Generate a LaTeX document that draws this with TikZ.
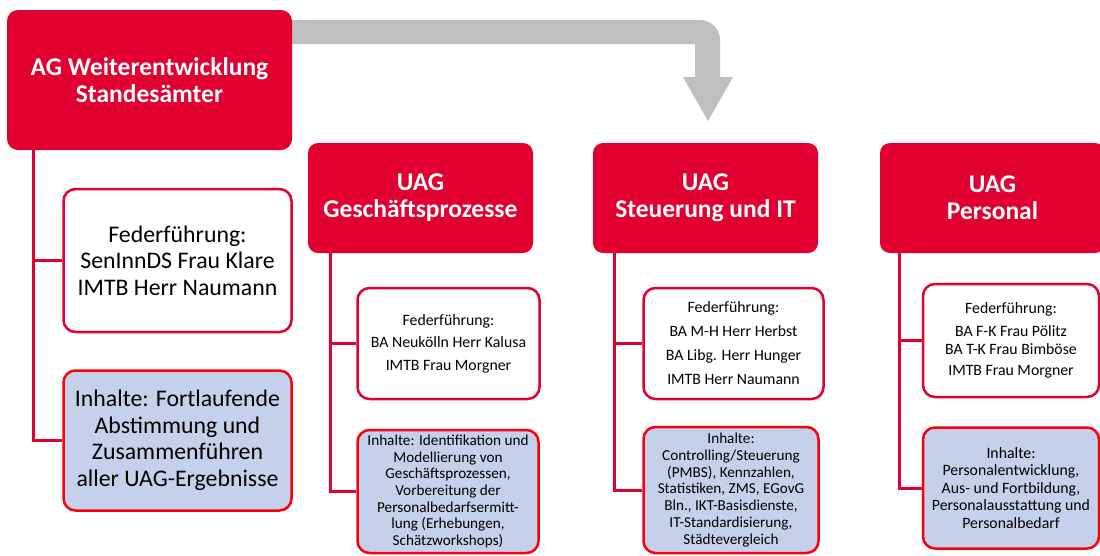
\documentclass[tikz,border=0pt]{standalone}
\usepackage{fontspec}
\setmainfont{Carlito}
\definecolor{agred}{RGB}{226,0,48}
\definecolor{brred}{RGB}{250,0,10}
\definecolor{lblue}{RGB}{197,208,235}
\definecolor{agray}{RGB}{191,191,191}
\tikzset{
  headbox/.style={fill=agred, draw=none, rounded corners=11pt, text=white,
    font=\fontsize{25.5}{27}\selectfont\bfseries, align=center, inner sep=0pt},
  fedbox/.style={draw=agred, fill=white, line width=2.5pt, rounded corners=12pt,
    align=center, inner sep=0pt},
  inhbox/.style={draw=brred, fill=lblue, line width=2.5pt, rounded corners=12pt,
    align=center, inner sep=0pt},
  bigtxt/.style={font=\fontsize{23.8}{26.5}\selectfont},
  midtxt/.style={font=\fontsize{15.8}{17.5}\selectfont},
  smalltxt/.style={font=\fontsize{15.2}{16.7}\selectfont},
  link/.style={draw=agred, line width=3pt},
  flow/.style={fill=agray, draw=none}
}
\begin{document}
\begin{tikzpicture}[x=1pt,y=-1pt]
\useasboundingbox (0,0) rectangle (1100,555);

% gray flow arrow
\fill[flow] (285,20) -- (700,20) .. controls (711,20) and (720,29) .. (720,40)
  -- (720,77) -- (733,77) -- (708,121) -- (683,77) -- (695,77) -- (695,44)
  -- (285,44) -- cycle;

% head boxes
\node[headbox, minimum width=285pt, minimum height=140pt] (ag) at (149.5,80)
  {AG Weiterentwicklung\\Standesämter};
\node[headbox, rounded corners=10pt, minimum width=225pt, minimum height=110pt] (uag1) at (420.5,198)
  {UAG\\Geschäftsprozesse};
\node[headbox, rounded corners=10pt, minimum width=225pt, minimum height=110pt] (uag2) at (705.5,198)
  {UAG\\Steuerung und IT};
\node[headbox, rounded corners=10pt, minimum width=225pt, minimum height=110pt] (uag3) at (992.5,198)
  {UAG\\Personal};

% column 1
\node[fedbox, bigtxt, minimum width=228pt, minimum height=143pt] (fed1) at (177.5,260.5)
  {Federführung:\\SenInnDS Frau Klare\\IMTB Herr Naumann};
\node[inhbox, bigtxt, minimum width=228pt, minimum height=140pt] (inh1) at (177.5,440.5)
  {Inhalte: Fortlaufende\\Abstimmung und\\Zusammenführen\\aller UAG-Ergebnisse};

% column 2
\node[fedbox, midtxt, minimum width=182pt, minimum height=111pt] (fed2) at (448.5,343.5)
  {Federführung:\\[5pt]BA Neukölln Herr Kalusa\\[5pt]IMTB Frau Morgner};
\node[inhbox, smalltxt, minimum width=181pt, minimum height=123pt] (inh2) at (448,491.5)
  {Inhalte: Identifikation und\\Modellierung von\\Geschäftsprozessen,\\Vorbereitung der\\Personalbedarfsermitt-\\lung (Erhebungen,\\Schätzworkshops)};

% column 3
\node[fedbox, midtxt, minimum width=180pt, minimum height=111pt] (fed3) at (733.5,343.5)
  {Federführung:\\[6.5pt]BA M-H Herr Herbst\\[6.5pt]BA Libg. Herr Hunger\\[6.5pt]IMTB Herr Naumann};
\node[inhbox, smalltxt, minimum width=175pt, minimum height=126pt] (inh3) at (731,490)
  {Inhalte:\\Controlling/Steuerung\\(PMBS), Kennzahlen,\\Statistiken, ZMS, EGovG\\Bln., IKT-Basisdienste,\\IT-Standardisierung,\\Städtevergleich};

% column 4
\node[fedbox, midtxt, minimum width=176pt, minimum height=113pt] (fed4) at (1011,340.5)
  {Federführung:\\[6pt]BA F-K Frau Pölitz\\BA T-K Frau Bimböse\\[4pt]IMTB Frau Morgner};
\node[inhbox, midtxt, minimum width=176pt, minimum height=121pt] (inh4) at (1011,488)
  {Inhalte:\\Personalentwicklung,\\Aus- und Fortbildung,\\Personalausstattung und\\Personalbedarf};

% connectors
\draw[link] (ag.south west) ++(26.5,0) |- (fed1.west);
\draw[link] (ag.south west) ++(26.5,0) |- (inh1.west);
\draw[link] (uag1.south west) ++(23,0) |- (fed2.west);
\draw[link] (uag1.south west) ++(23,0) |- (inh2.west);
\draw[link] (uag2.south west) ++(22,0) |- (fed3.west);
\draw[link] (uag2.south west) ++(22,0) |- (inh3.west);
\draw[link] (uag3.south west) ++(20,0) |- (fed4.west);
\draw[link] (uag3.south west) ++(20,0) |- (inh4.west);
\end{tikzpicture}
\end{document}
